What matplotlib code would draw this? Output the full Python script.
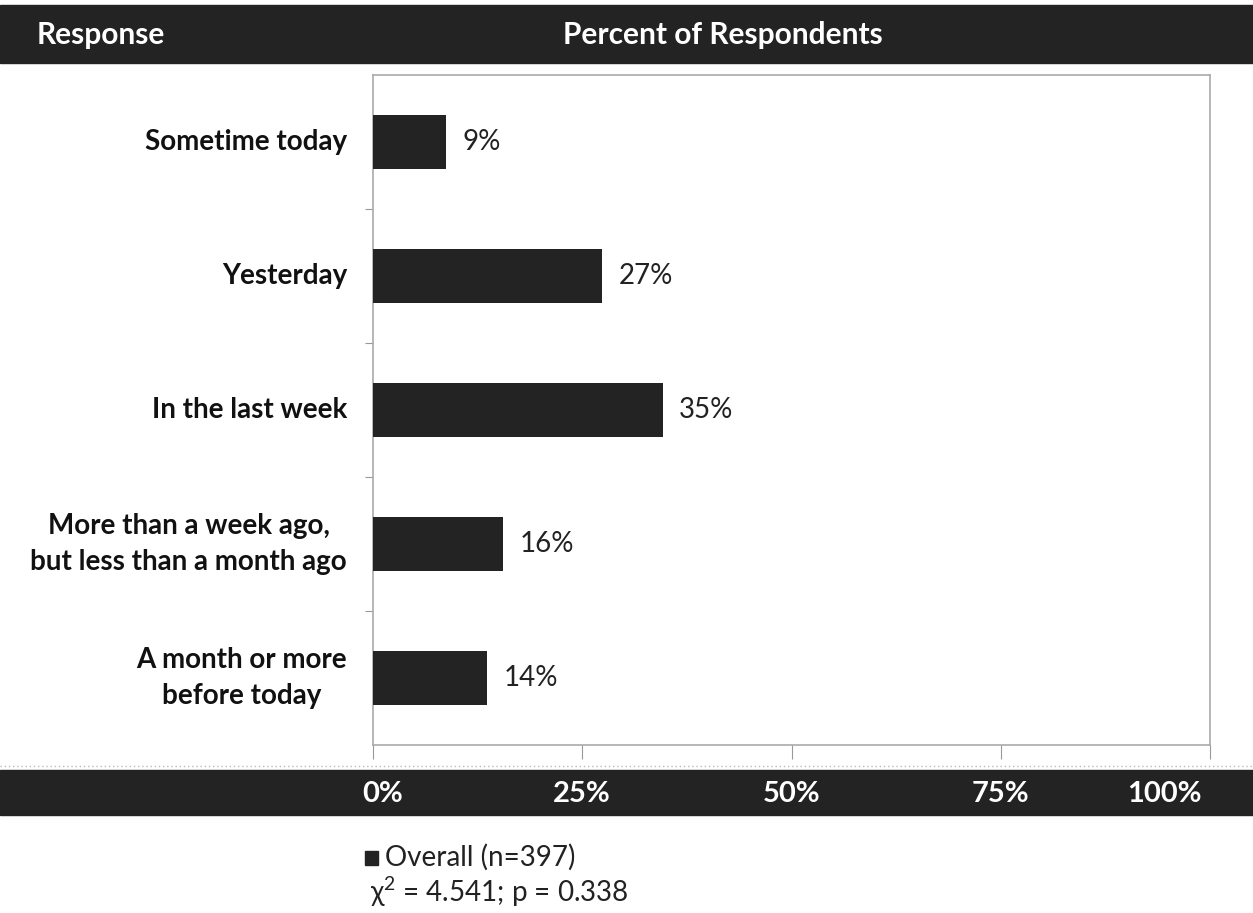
import matplotlib
matplotlib.use("Agg")
import matplotlib.pyplot as plt
from matplotlib.patches import Rectangle
from matplotlib.transforms import blended_transform_factory

categories = ["Sometime today", "Yesterday", "In the last week",
              "More than a week ago,\nbut less than a month ago",
              "A month or more\nbefore today"]
values = [8.7, 27.4, 34.6, 15.5, 13.6]
value_labels = ["9%", "27%", "35%", "16%", "14%"]
xticks = [0, 25, 50, 75, 100]
xtick_labels = ["0%", "25%", "50%", "75%", "100%"]
legend_label = "Overall (n=397)"
stat_text = r"χ$\mathregular{^2}$ = 4.541; p = 0.338"

DARK = "#232323"
FONT = ["Lato", "DejaVu Sans"]

fig = plt.figure(figsize=(12.53, 9.13), dpi=100)
W, H = 1253, 913
ax = fig.add_axes([373 / W, 1 - 745 / H, (1210 - 373) / W, (745 - 75) / H])

ypos = list(range(len(categories)))
ax.barh(ypos, values, height=0.4, color=DARK, zorder=3)
ax.set_ylim(len(categories) - 0.5, -0.5)
ax.set_xlim(0, 100)

for y, v, lab in zip(ypos, values, value_labels):
    ax.text(v + 2.0, y, lab, va="center", ha="left", fontsize=20,
            family=FONT, color="#222222")

ax.set_yticks([y + 0.5 for y in ypos[:-1]])
ax.set_yticklabels([])
ax.tick_params(axis="y", length=6, color="#999999", direction="out")
ax.set_xticks(xticks)
ax.set_xticklabels([])
ax.tick_params(axis="x", length=10, color="#999999", direction="out")
for s in ax.spines.values():
    s.set_color("#aaaaaa")
    s.set_linewidth(1.2)

for y, c in zip(ypos, categories):
    ax.text(-3.1, y, c, ha="right", va="center", multialignment="center",
            fontsize=20, fontweight="bold", family=FONT, color="#111111",
            linespacing=1.52)

# header bar
fig.patches.append(Rectangle((0, 1 - 63 / H), 1, 58 / H, transform=fig.transFigure,
                             color=DARK, zorder=0))
fig.text(37 / W, 1 - 35 / H, "Response", ha="left", va="center", color="white",
         fontsize=21.5, fontweight="bold", family=FONT)
fig.text(723 / W, 1 - 35 / H, "Percent of Respondents", ha="center", va="center",
         color="white", fontsize=21.5, fontweight="bold", family=FONT)

# bottom bar
fig.patches.append(Rectangle((0, 1 - 815 / H), 1, 45 / H, transform=fig.transFigure,
                             color=DARK, zorder=0))
fig.lines.append(plt.Line2D([0, 1], [1 - 766 / H] * 2, transform=fig.transFigure,
                            color="#bbbbbb", lw=1, ls=(0, (1, 2))))
trans = blended_transform_factory(ax.transData, fig.transFigure)
label_shift = [1.1, 0, 0, 0, -5.4]
for t, lab, sh in zip(xticks, xtick_labels, label_shift):
    fig.text(t + sh, 1 - 794 / H, lab, transform=trans, ha="center", va="center",
             color="white", fontsize=21, fontweight="bold", family=FONT)

# legend
fig.patches.append(Rectangle((365 / W, 1 - 865 / H), 13 / W, 14 / H,
                             transform=fig.transFigure, color=DARK))
fig.text(385 / W, 1 - 857 / H, legend_label, ha="left", va="center",
         fontsize=20, family=FONT, color="#222222")
fig.text(370 / W, 1 - 892 / H, stat_text, ha="left", va="center",
         fontsize=20, family=FONT, color="#222222")

fig.savefig("out.png", dpi=100, facecolor="white")
